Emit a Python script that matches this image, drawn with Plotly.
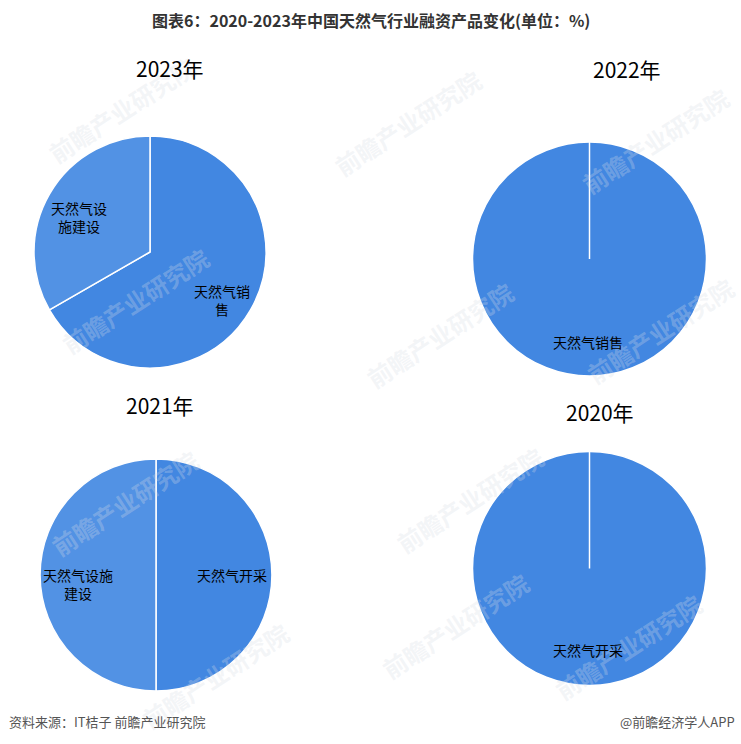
import plotly.graph_objects as go

W, H = 741, 744

# ---- data ----
years = ["2023年", "2022年", "2021年", "2020年"]
labels_2023 = ["天然气销售", "天然气设施建设"]
values_2023 = [66.7, 33.3]
labels_2022 = ["天然气销售"]
values_2022 = [100]
labels_2021 = ["天然气开采", "天然气设施建设"]
values_2021 = [50, 50]
labels_2020 = ["天然气开采"]
values_2020 = [100]

# display text for slice labels (wrapped as in the source)
disp_2023 = ["天然气销<br>售", "天然气设<br>施建设"]
disp_2022 = ["天然气销售"]
disp_2021 = ["天然气开采", "天然气设施<br>建设"]
disp_2020 = ["天然气开采"]

title = "图表6：2020-2023年中国天然气行业融资产品变化(单位：%)"
source = "资料来源：IT桔子 前瞻产业研究院"
brand = "@前瞻经济学人APP"

DARK = "#4287E1"
LIGHT = "#5292E4"
colors = {"天然气销售": DARK, "天然气开采": DARK, "天然气设施建设": LIGHT}

FONT = "Noto Sans CJK SC"

# ---- layout geometry (pixels) ----
pies = [
    dict(lab=labels_2023, val=values_2023, disp=disp_2023, cx=150, cy=252, r=116,
         title=years[0], tx=170, ty=68, lpos=[(222, 300), (79, 217)]),
    dict(lab=labels_2022, val=values_2022, disp=disp_2022, cx=589.5, cy=259, r=117,
         title=years[1], tx=627, ty=69, lpos=[(588, 342)]),
    dict(lab=labels_2021, val=values_2021, disp=disp_2021, cx=156, cy=575, r=116,
         title=years[2], tx=160, ty=405, lpos=[(232, 575), (78, 584)]),
    dict(lab=labels_2020, val=values_2020, disp=disp_2020, cx=589.5, cy=568.5, r=117,
         title=years[3], tx=600, ty=412, lpos=[(588, 650)]),
]

def px(x):
    return x / W

def py(y):
    return 1 - y / H

def ann(x, y, text, size, color, xanchor="center", **kw):
    return dict(x=px(x), y=py(y), xref="paper", yref="paper", xanchor=xanchor,
                yanchor="middle", text=text, showarrow=False,
                font=dict(family=FONT, size=size, color=color), **kw)

fig = go.Figure()
annotations = []
shapes = []

# faint watermarks
wm = [(122, 110), (408, 123), (655, 140), (135, 300), (440, 335), (660, 330),
      (125, 503), (470, 500), (455, 625), (628, 646), (215, 675)]
for (x, y) in wm:
    annotations.append(ann(x, y, "<b>前瞻产业研究院</b>", 24, "rgba(215,220,230,0.3)",
                           textangle=-33))

for p in pies:
    cx, cy, r = p["cx"], p["cy"], p["r"]
    fig.add_trace(go.Pie(
        labels=p["lab"], values=p["val"],
        domain=dict(x=[px(cx - r), px(cx + r)], y=[py(cy + r), py(cy - r)]),
        sort=False, direction="clockwise", rotation=0,
        marker=dict(colors=[colors[l] for l in p["lab"]], line=dict(color="white", width=1.5)),
        textinfo="none", hoverinfo="label+percent", showlegend=False,
    ))
    if len(p["val"]) == 1:
        # slice border line of a full-circle slice
        shapes.append(dict(type="line", xref="paper", yref="paper",
                           x0=px(cx), y0=py(cy), x1=px(cx), y1=py(cy - r),
                           line=dict(color="white", width=1.5)))
    annotations.append(ann(p["tx"], p["ty"], p["title"], 21, "#000000"))
    for d, (lx, ly) in zip(p["disp"], p["lpos"]):
        annotations.append(ann(lx, ly, d, 14, "#000000", align="center"))

annotations.append(ann(371, 20, "<b>" + title + "</b>", 16, "#333333"))
annotations.append(ann(7, 721, source, 13, "#555555", xanchor="left"))
annotations.append(ann(737, 721, brand, 13, "#555555", xanchor="right"))

fig.update_layout(
    width=W, height=H,
    margin=dict(l=0, r=0, t=0, b=0),
    paper_bgcolor="white", plot_bgcolor="white",
    annotations=annotations, shapes=shapes,
    font=dict(family=FONT),
)

fig.write_html("out.html", config={"displayModeBar": False},
               post_script="document.body.style.margin='0px';document.body.style.padding='0px';")
